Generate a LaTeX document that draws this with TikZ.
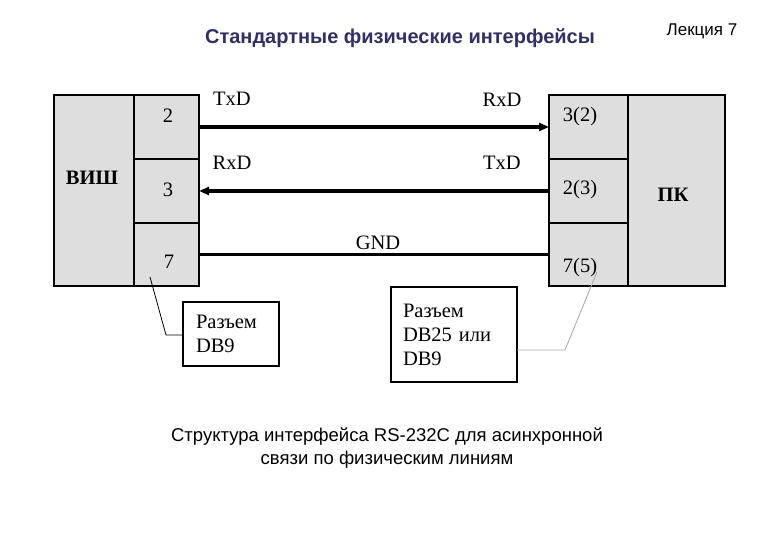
\documentclass[tikz,border=0pt]{standalone}
\usepackage{fontspec}
\setmainfont{Liberation Serif}
\newfontfamily\arialfont{Liberation Sans}
\usepackage{tikz}
\usetikzlibrary{arrows.meta,positioning}
\usepackage{xcolor}
\definecolor{azulTitulo}{RGB}{48,48,100}
\definecolor{cinzaCelula}{RGB}{222,222,222}
\tikzset{
  celula/.style={rectangle, draw=black, line width=1.6pt, fill=cinzaCelula,
                 inner sep=0pt, outer sep=0pt, minimum width=65pt, minimum height=64pt,
                 anchor=north west},
  rotulo/.style={inner sep=0pt, font=\fontsize{20.5}{24}\selectfont},
  forte/.style={inner sep=0pt, font=\bfseries\fontsize{20.5}{24}\selectfont},
  caixa/.style={rectangle, draw=black, line width=1.2pt, fill=white, outer sep=0pt,
                anchor=north west, align=left, inner ysep=0pt,
                font=\fontsize{20.5}{24}\selectfont},
  fio/.style={-{Triangle[length=10pt,width=8pt]}, line width=3.2pt},
  chamada/.style={line width=0.8pt},
}

\begin{document}
\begin{tikzpicture}[x=1pt, y=-1pt]
  \useasboundingbox (0,0) rectangle (780,540);
  % cabecalho
  \node[font=\arialfont\bfseries\fontsize{20}{24}\selectfont, text=azulTitulo] (titulo) at (400,38) {Стандартные физические интерфейсы};
  \node[font=\arialfont\fontsize{17}{20}\selectfont] (aula) at (702,31) {Лекция 7};
  % lado esquerdo
  \node[celula, minimum width=80pt, minimum height=191pt] (vish) at (54,95) {};
  \node[celula] (c2) at (vish.north east) {};
  \node[celula] (c3) at (c2.south west) {};
  \node[celula, minimum height=63pt] (c7) at (c3.south west) {};
  % lado direito
  \node[celula, minimum width=79pt] (p32) at (549,95) {};
  \node[celula, minimum width=79pt] (p23) at (p32.south west) {};
  \node[celula, minimum width=79pt, minimum height=63pt] (p75) at (p23.south west) {};
  \node[celula, minimum width=97pt, minimum height=191pt] (pk) at (p32.north east) {};
  % rotulos das celulas
  \node[forte] (tvish) at (92,178) {ВИШ};
  \node[forte] (tpk) at (673,195) {ПК};
  \node[rotulo] (t2) at (168,116) {2};
  \node[rotulo] (t3) at (168,190) {3};
  \node[rotulo] (t7) at (169,262) {7};
  \node[rotulo] (t32) at (580,117) {3(2)};
  \node[rotulo] (t23) at (580,190) {2(3)};
  \node[rotulo] (t75) at (580,268) {7(5)};
  % linhas de sinal
  \draw[fio] (c2.east) -- (p32.west);
  \draw[fio] (p23.west) -- (c3.east);
  \draw[fio, -] (c7.east) -- (p75.west);
  \node[rotulo] (txa) at (232,99) {TxD};
  \node[rotulo] (rxb) at (502,100) {RxD};
  \node[rotulo] (rxa) at (232,163) {RxD};
  \node[rotulo] (txb) at (502,163) {TxD};
  \node[rotulo] (gnd) at (378,243) {GND};
  % conectores
  \node[caixa, text width=70pt, minimum height=64pt, inner xsep=13pt] (db9) at (183,302) {Разъем\\DB9};
  \node[caixa, text width=102pt, minimum height=95pt, inner xsep=12pt] (db25) at (391,287) {Разъем\\DB25 или\\DB9};
  \coordinate (pino7) at (150,277);
  \coordinate (pino5) at (597,272);
  \draw[chamada] (pino7) -- (166,335) -- (db9.west |- 0,335);
  \draw[chamada, black!35] (pino5) -- (565,350) -- (db25.east |- 0,350);
  % legenda
  \node[font=\arialfont\fontsize{18.5}{23}\selectfont, align=center] (legenda) at (387,448.5) {Структура интерфейса RS-232C для асинхронной\\связи по физическим линиям};
\end{tikzpicture}
\end{document}
